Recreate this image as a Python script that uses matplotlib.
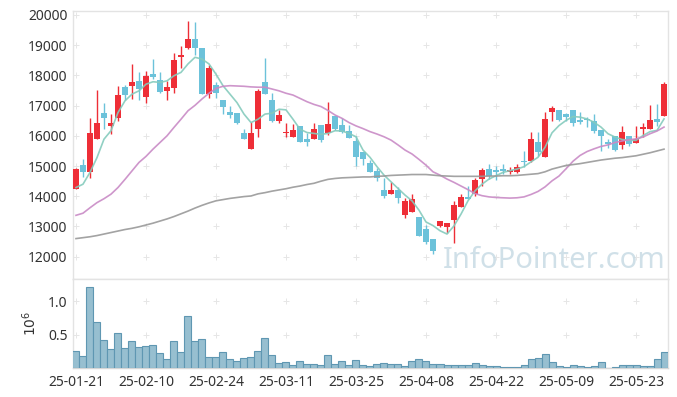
import numpy as np
import matplotlib
matplotlib.use('Agg')
import matplotlib.pyplot as plt

plt.rcParams['font.family'] = ['Noto Sans', 'DejaVu Sans']

# trading day index labels (every 10th session)
tick_labels = ['25-01-21', '25-02-10', '25-02-24', '25-03-11', '25-03-25',
               '25-04-08', '25-04-22', '25-05-09', '25-05-23']

opens = [14250, 15030, 14790, 15910, 16740, 16330, 16580, 17620, 17660, 17820,
         17300, 18060, 17860, 17470, 17580, 18600, 18900, 19200, 18900, 17400,
         17690, 17190, 16800, 16740, 16100, 15580, 16240, 17790, 17190, 16500,
         16080, 15970, 16330, 15890, 15910, 16360, 16080, 16660, 16360, 16160,
         15840, 15460, 15110, 14830, 14200, 14060, 14200, 13390, 13480, 13320,
         12910, 12600, 13000, 12970, 13210, 13650, 13980, 14070, 14560, 14900,
         14870, 14890, 14820, 14790, 15140, 15180, 15810, 15290, 16790, 16840,
         16710, 16870, 16510, 16560, 16480, 16180, 15790, 16010, 15710, 15980,
         15770, 16230, 16230, 16560, 16650]
highs = [14930, 15230, 16590, 17510, 17080, 16720, 17660, 17690, 18380, 18100,
         18160, 18540, 18100, 17800, 18740, 18980, 19810, 19780, 18910, 18340,
         17770, 17200, 16990, 16770, 16240, 16460, 17550, 18580, 17410, 16860,
         16440, 16390, 16330, 16110, 16410, 16360, 17110, 16660, 16580, 16360,
         16010, 15460, 15200, 14920, 14590, 14460, 14310, 13930, 14090, 13320,
         13060, 12600, 13190, 13130, 13830, 14070, 14350, 14620, 14930, 15070,
         15010, 15070, 14960, 15070, 15510, 16120, 16120, 16780, 16980, 16840,
         16760, 16870, 16790, 16620, 16710, 16180, 15900, 16010, 16310, 16000,
         16340, 16420, 17010, 17060, 17780]
lows = [14230, 14650, 14620, 15890, 16220, 16060, 16500, 17190, 17220, 17190,
        17080, 17880, 17410, 17180, 17410, 18240, 18870, 18670, 17400, 17250,
        17240, 16720, 16580, 16390, 15890, 15580, 15950, 17400, 16460, 16440,
        15950, 15950, 15780, 15650, 15890, 15810, 16030, 16190, 16080, 15920,
        15010, 15030, 14810, 14500, 13950, 14060, 13790, 13280, 13480, 12680,
        12410, 12090, 12970, 12800, 12440, 13630, 13900, 14020, 14350, 14570,
        14540, 14740, 14740, 14760, 14960, 15140, 15340, 15290, 16500, 16480,
        16490, 16340, 16380, 16290, 16100, 15510, 15600, 15490, 15570, 15650,
        15760, 15960, 16230, 16340, 16650]
closes = [14900, 14790, 16110, 16410, 16580, 16440, 17360, 17360, 17790, 17550,
          17990, 17960, 17460, 17620, 18520, 18690, 19200, 18900, 17400, 18250,
          17410, 16940, 16690, 16410, 15910, 16100, 17490, 17400, 16500, 16700,
          16130, 16190, 15780, 15780, 16240, 15860, 16390, 16230, 16140, 15940,
          15310, 15230, 14810, 14610, 14000, 14200, 13930, 13840, 13900, 12680,
          12490, 12200, 13190, 13130, 13720, 13980, 13900, 14550, 14870, 14680,
          14820, 14850, 14870, 14980, 15120, 15900, 15450, 16560, 16930, 16540,
          16620, 16430, 16450, 16510, 16160, 15990, 15740, 15540, 16120, 15740,
          15900, 16290, 16510, 16450, 17720]

ma5 = [14290, 14400, 14790, 15280, 15890, 16170, 16770, 17160, 17380, 17490,
       17710, 17790, 17770, 17820, 17990, 18100, 18380, 18600, 18540, 18380,
       18040, 17660, 17380, 17100, 16720, 16440, 16550, 16720, 16750, 16880,
       16860, 16550, 16220, 16110, 16080, 16050, 16080, 16170, 16160, 16080,
       15970, 15530, 15290, 14980, 14700, 14480, 14260, 14040, 13850, 13540,
       13150, 13030, 12860, 12750, 13020, 13410, 13850, 14180, 14400, 14570,
       14680, 14790, 14850, 14900, 14980, 15140, 15290, 15620, 16100, 16340,
       16510, 16640, 16620, 16560, 16450, 16290, 16070, 15960, 15880, 15850,
       15850, 16010, 16140, 16180, 16560]
ma20 = [13370, 13440, 13620, 13790, 13920, 14070, 14290, 14560, 14840, 15120,
        15320, 15560, 15780, 16000, 16280, 16550, 16830, 17010, 17220, 17410,
        17570, 17640, 17660, 17650, 17640, 17620, 17610, 17610, 17550, 17490,
        17410, 17350, 17240, 17130, 17040, 16970, 16840, 16690, 16580, 16440,
        16330, 16240, 16140, 16060, 15970, 15860, 15700, 15530, 15400, 15220,
        15030, 14810, 14700, 14570, 14460, 14340, 14220, 14090, 14020, 13980,
        13960, 13950, 13940, 13950, 13980, 14060, 14160, 14310, 14510, 14670,
        14910, 15160, 15350, 15480, 15570, 15650, 15700, 15780, 15830, 15870,
        15900, 15960, 16070, 16160, 16290]
ma60 = [12600, 12630, 12660, 12700, 12750, 12800, 12850, 12900, 12940, 12990,
        13050, 13110, 13180, 13250, 13330, 13420, 13510, 13610, 13700, 13780,
        13850, 13890, 13930, 13960, 13990, 14010, 14080, 14120, 14170, 14210,
        14250, 14300, 14340, 14390, 14430, 14500, 14560, 14590, 14610, 14620,
        14630, 14640, 14640, 14660, 14670, 14690, 14700, 14710, 14720, 14720,
        14720, 14700, 14680, 14670, 14660, 14660, 14660, 14660, 14660, 14670,
        14670, 14680, 14680, 14690, 14710, 14730, 14750, 14810, 14900, 14960,
        15020, 15050, 15080, 15120, 15160, 15200, 15230, 15260, 15280, 15310,
        15340, 15390, 15440, 15500, 15560]

volume = [250000, 175000, 1205000, 695000, 425000, 290000, 530000, 305000, 410000, 320000,
          335000, 350000, 230000, 140000, 410000, 245000, 770000, 410000, 440000, 170000,
          170000, 245000, 140000, 110000, 155000, 170000, 260000, 455000, 200000, 80000,
          95000, 50000, 110000, 65000, 65000, 50000, 200000, 65000, 110000, 50000,
          125000, 50000, 30000, 65000, 80000, 65000, 65000, 35000, 110000, 140000,
          110000, 65000, 65000, 50000, 50000, 50000, 50000, 80000, 50000, 35000,
          35000, 20000, 20000, 20000, 50000, 140000, 155000, 215000, 95000, 35000,
          20000, 50000, 35000, 20000, 35000, 95000, 5000, 20000, 50000, 50000,
          50000, 35000, 35000, 140000, 245000]

up_color = '#ee2e37'
down_color = '#6cc2da'
grid_color = '#e6e6e6'
spine_color = '#e3e3e3'
text_color = '#333333'

x = np.arange(len(closes))
o = np.array(opens)
c = np.array(closes)
up = c >= o
colors = np.where(up, up_color, down_color)

fig = plt.figure(figsize=(6.77, 3.97), dpi=100)
ax = fig.add_axes([0.1078, 0.2972, 0.8789, 0.6751])
axv = fig.add_axes([0.1078, 0.0730, 0.8789, 0.2242], sharex=ax)

# candles
ax.vlines(x, lows, highs, colors=colors, linewidth=1.0, zorder=3)
body_h = np.maximum(np.abs(c - o), 40)
ax.bar(x, body_h, bottom=np.minimum(o, c), width=0.72, color=colors,
       linewidth=0, zorder=4)

# moving averages
ax.plot(x, ma5, color='#85cbbd', lw=1.2, alpha=0.9, zorder=5)
ax.plot(x, ma20, color='#c98bc6', lw=1.2, alpha=0.9, zorder=5)
ax.plot(x, ma60, color='#999999', lw=1.2, alpha=0.9, zorder=5)

ax.text(0.622, 0.04, 'InfoPointer.com', transform=ax.transAxes, fontsize=21,
        color='#c5d9e3', alpha=0.8, zorder=1, ha='left', va='baseline')

ax.set_xlim(-0.43, 84.57)
ax.set_ylim(11262, 20132)
yt = np.arange(12000, 20001, 1000)
ax.set_yticks(yt)
ax.set_yticklabels([str(v) for v in yt])

# volume
axv.bar(x, np.array(volume) / 1e6, width=1.0, color='#97bfd0',
        edgecolor='#5f97b2', linewidth=0.8, zorder=3)
axv.set_ylim(0, 1.33)
axv.set_yticks([0.5, 1.0])
axv.set_yticklabels(['0.5', '1.0'])
axv.set_ylabel('$10^6$', fontsize=10, color=text_color, labelpad=6)

xt = np.arange(0, 85, 10)
axv.set_xticks(xt)
axv.set_xticklabels(tick_labels)
plt.setp(ax.get_xticklabels(), visible=False)

# "+" grid marks at tick crossings
gx, gy = np.meshgrid(xt, yt)
ax.scatter(gx.ravel(), gy.ravel(), marker='+', s=16, color=grid_color,
           linewidths=0.7, zorder=0)
gx2, gy2 = np.meshgrid(xt, [0.5, 1.0])
axv.scatter(gx2.ravel(), gy2.ravel(), marker='+', s=16, color=grid_color,
            linewidths=0.7, zorder=0)

for a in (ax, axv):
    a.tick_params(length=0, labelsize=10, colors=text_color)
    a.tick_params(axis='y', pad=4)
    a.tick_params(axis='x', pad=5)
    for s in a.spines.values():
        s.set_color(spine_color)
        s.set_linewidth(1.0)
axv.spines['bottom'].set_color('#d6d6d6')

fig.savefig('out.png', dpi=100)
